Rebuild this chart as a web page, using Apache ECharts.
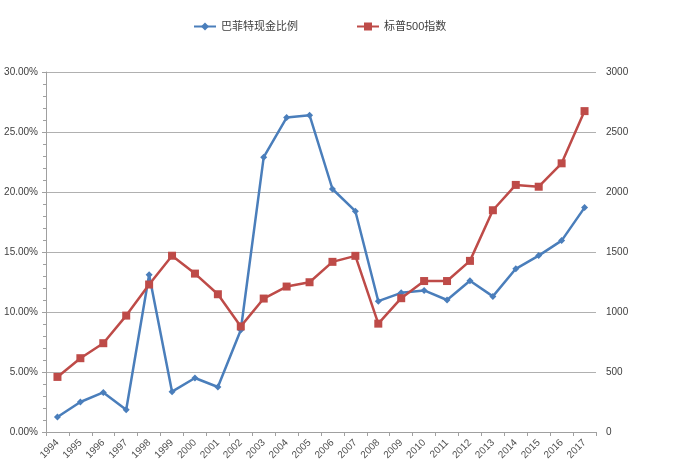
<!DOCTYPE html>
<html><head><meta charset="utf-8">
<script src="https://cdn.jsdelivr.net/npm/echarts@6/dist/echarts.min.js"></script>
<style>html,body{margin:0;padding:0;background:#fff}#c{width:700px;height:472px}</style>
</head><body><div id="c"></div>
<script>
const years = ['1994','1995','1996','1997','1998','1999','2000','2001','2002','2003','2004','2005','2006','2007','2008','2009','2010','2011','2012','2013','2014','2015','2016','2017'];
const cashRatio = [1.25,2.5,3.3,1.86,13.1,3.36,4.5,3.75,8.5,22.9,26.2,26.4,20.25,18.4,10.9,11.6,11.8,11.0,12.6,11.3,13.6,14.7,15.95,18.7];
const sp500 = [459,615,740,970,1229,1469,1320,1148,880,1112,1212,1248,1418,1468,903,1115,1258,1258,1426,1848,2059,2044,2239,2674];
const leftTicks = {min:0,max:30,interval:5};
const rightTicks = {min:0,max:3000,interval:500};

const chart = echarts.init(document.getElementById('c'));
const font = 'Arial, "Noto Sans CJK SC", sans-serif';
chart.setOption({
  animation:false,
  backgroundColor:'#fff',
  textStyle:{fontFamily:font},
  legend:{
    top:16,left:188,itemGap:58,itemWidth:22,itemHeight:10,
    textStyle:{fontSize:11,color:'#404040',fontFamily:font},
    data:['巴菲特现金比例','标普500指数']
  },
  grid:{left:46,right:104,top:72,bottom:40},
  xAxis:{
    type:'category',data:years,boundaryGap:true,
    axisLine:{lineStyle:{color:'#A0A0A0'}},
    axisTick:{show:true,inside:false,length:4,lineStyle:{color:'#A0A0A0'}},
    axisLabel:{rotate:45,fontSize:10,color:'#505050',margin:9,interval:0}
  },
  yAxis:[{
    type:'value',min:leftTicks.min,max:leftTicks.max,interval:leftTicks.interval,
    axisLine:{show:true,lineStyle:{color:'#A0A0A0'}},
    axisTick:{show:true,length:4,lineStyle:{color:'#A0A0A0'}},
    minorTick:{show:true,splitNumber:5,length:3,lineStyle:{color:'#A0A0A0'}},
    splitLine:{lineStyle:{color:'#B0B0B0',width:1}},
    axisLabel:{fontSize:10,color:'#404040',margin:8,formatter:v=>v.toFixed(2)+'%'}
  },{
    type:'value',min:rightTicks.min,max:rightTicks.max,interval:rightTicks.interval,
    axisLine:{show:false},axisTick:{show:false},splitLine:{show:false},
    axisLabel:{fontSize:10,color:'#404040',margin:10,formatter:v=>String(v)}
  }],
  series:[{
    name:'巴菲特现金比例',type:'line',yAxisIndex:0,data:cashRatio,
    symbol:'diamond',symbolSize:7,
    lineStyle:{color:'#4A7EBB',width:2.5},itemStyle:{color:'#4A7EBB'}
  },{
    name:'标普500指数',type:'line',yAxisIndex:1,data:sp500,
    symbol:'rect',symbolSize:8,
    lineStyle:{color:'#BE4B48',width:2.5},itemStyle:{color:'#BE4B48'}
  }]
});
</script></body></html>
